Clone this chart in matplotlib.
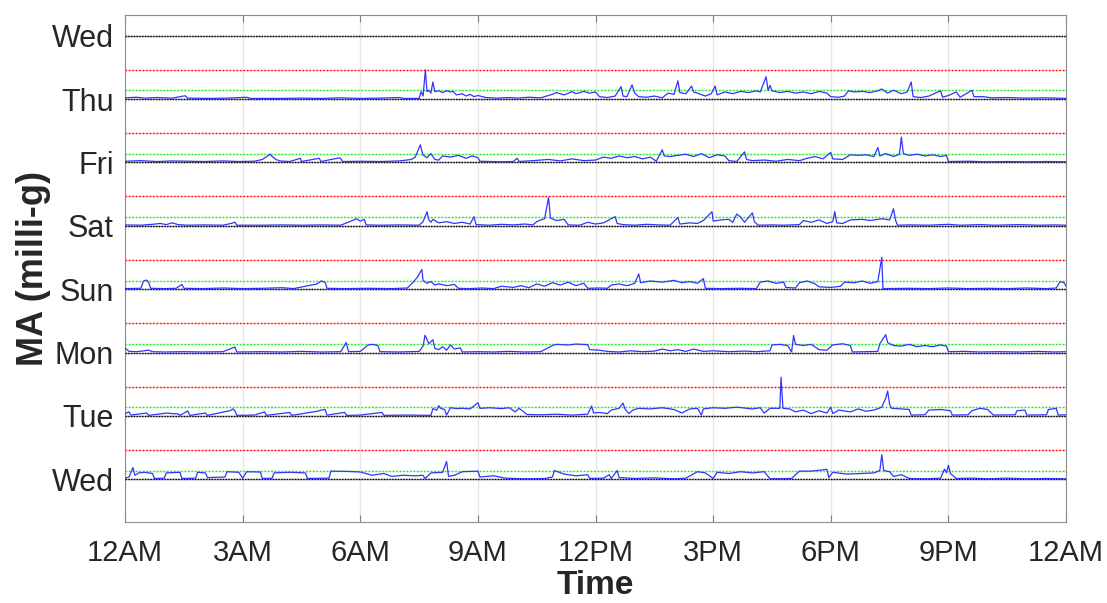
import matplotlib.pyplot as plt
import numpy as np

plt.rcParams['font.family'] = ['Liberation Sans', 'DejaVu Sans']

# y tick labels from top to bottom
day_labels = ["Wed", "Thu", "Fri", "Sat", "Sun", "Mon", "Tue", "Wed"]
hour_ticks = [0, 3, 6, 9, 12, 15, 18, 21, 24]
hour_labels = ["12AM", "3AM", "6AM", "9AM", "12PM", "3PM", "6PM", "9PM", "12AM"]

spacing = 216      # milli-g between day baselines
green_level = 29   # milli-g
red_level = 100    # milli-g

# (hour, MA in milli-g)
thu = [(0.0, 4), (0.3, 6), (0.5, 3), (0.8, 5), (1.2, 3), (1.53, 11), (1.6, 3), (2.2, 2), (2.6, 3), (3.1, 6),
       (3.2, 2), (4.0, 2), (4.5, 3), (5.0, 2), (5.5, 4), (6.0, 2), (6.5, 3), (7.0, 5), (7.1, 2), (7.5, 2),
       (7.55, 25), (7.6, 10), (7.66, 99), (7.7, 25), (7.75, 30), (7.8, 20), (7.85, 58), (7.9, 25), (8.0, 28),
       (8.1, 22), (8.2, 28), (8.3, 24), (8.37, 26), (8.45, 14), (8.6, 18), (8.7, 10), (8.8, 16), (8.9, 8),
       (9.0, 12), (9.2, 5), (9.5, 3), (9.8, 5), (10.0, 3), (10.3, 6), (10.6, 4), (10.75, 10), (10.9, 16),
       (11.0, 22), (11.2, 14), (11.4, 25), (11.5, 18), (11.7, 26), (11.85, 20), (12.0, 24), (12.1, 8),
       (12.3, 5), (12.5, 10), (12.65, 42), (12.7, 10), (12.8, 8), (12.93, 48), (13.0, 20), (13.1, 8),
       (13.3, 6), (13.5, 10), (13.7, 4), (13.85, 20), (14.0, 16), (14.1, 62), (14.15, 22), (14.3, 18),
       (14.45, 44), (14.5, 24), (14.6, 20), (14.8, 10), (14.95, 18), (15.05, 44), (15.1, 14), (15.3, 24),
       (15.5, 18), (15.7, 26), (15.9, 22), (16.1, 28), (16.2, 24), (16.35, 76), (16.4, 30), (16.45, 46),
       (16.5, 28), (16.7, 22), (16.9, 26), (17.1, 20), (17.3, 24), (17.5, 18), (17.7, 26), (17.9, 20),
       (18.0, 8), (18.2, 6), (18.35, 10), (18.45, 28), (18.6, 24), (18.8, 26), (19.0, 22), (19.2, 28),
       (19.3, 34), (19.45, 20), (19.6, 30), (19.8, 18), (19.95, 24), (20.05, 58), (20.1, 8), (20.3, 5),
       (20.5, 10), (20.8, 28), (20.85, 6), (21.0, 12), (21.2, 24), (21.3, 6), (21.6, 30), (21.65, 8),
       (21.9, 8), (22.1, 4), (22.5, 5), (23.0, 3), (23.5, 4), (24.0, 2)]

fri = [(0.0, 4), (0.4, 6), (0.8, 3), (1.2, 5), (1.6, 4), (2.0, 3), (2.5, 5), (2.9, 3), (3.3, 4), (3.5, 10),
       (3.7, 28), (3.75, 20), (3.85, 10), (3.95, 5), (4.2, 3), (4.47, 14), (4.5, 3), (4.95, 14), (5.0, 3),
       (5.48, 16), (5.55, 3), (6.0, 4), (6.5, 3), (7.0, 5), (7.3, 10), (7.4, 18), (7.53, 60), (7.6, 25),
       (7.7, 16), (7.8, 30), (7.9, 10), (8.0, 8), (8.1, 22), (8.3, 18), (8.5, 24), (8.7, 14), (8.85, 22),
       (9.0, 16), (9.05, 4), (9.3, 3), (9.6, 2), (9.9, 3), (10.0, 14), (10.05, 3), (10.4, 6), (10.8, 10),
       (11.1, 5), (11.4, 12), (11.7, 6), (12.0, 8), (12.2, 18), (12.4, 14), (12.6, 22), (12.8, 16),
       (13.0, 20), (13.2, 12), (13.4, 18), (13.55, 4), (13.7, 43), (13.75, 22), (13.9, 20), (14.1, 24),
       (14.3, 28), (14.5, 20), (14.7, 30), (14.9, 16), (15.1, 26), (15.3, 22), (15.4, 6), (15.6, 3),
       (15.8, 36), (15.85, 10), (16.0, 6), (16.3, 8), (16.6, 4), (16.9, 10), (17.2, 6), (17.4, 14),
       (17.6, 20), (17.8, 12), (18.0, 34), (18.05, 12), (18.3, 10), (18.5, 26), (18.7, 24), (18.9, 26),
       (19.1, 20), (19.2, 51), (19.25, 22), (19.4, 30), (19.6, 20), (19.75, 28), (19.8, 86), (19.85, 30),
       (20.0, 24), (20.2, 28), (20.4, 22), (20.6, 26), (20.8, 20), (20.95, 24), (21.0, 3), (21.5, 4),
       (22.0, 2), (22.5, 3), (23.0, 2), (23.5, 3), (24.0, 2)]

sat = [(0.0, 3), (0.4, 2), (0.7, 5), (0.9, 8), (1.05, 4), (1.2, 10), (1.35, 4), (1.6, 2), (2.0, 3), (2.5, 2),
       (2.7, 8), (2.8, 12), (2.85, 2), (3.5, 2), (4.0, 3), (4.5, 2), (5.0, 3), (5.5, 2), (5.8, 18), (5.9, 24),
       (6.0, 16), (6.1, 22), (6.15, 3), (6.5, 2), (7.0, 3), (7.5, 2), (7.6, 14), (7.7, 48), (7.75, 20),
       (7.8, 12), (7.85, 22), (8.0, 10), (8.2, 14), (8.4, 8), (8.6, 12), (8.8, 6), (8.9, 31), (8.95, 4),
       (9.3, 2), (9.6, 5), (9.9, 3), (10.2, 6), (10.4, 3), (10.5, 14), (10.6, 20), (10.7, 24), (10.8, 96),
       (10.85, 26), (11.0, 18), (11.2, 22), (11.3, 3), (11.6, 2), (11.8, 12), (12.0, 6), (12.2, 10),
       (12.5, 31), (12.55, 8), (12.7, 4), (13.0, 2), (13.3, 5), (13.6, 3), (13.9, 2), (14.1, 28), (14.15, 6),
       (14.4, 10), (14.6, 8), (14.75, 18), (14.97, 48), (15.0, 16), (15.2, 20), (15.4, 22), (15.5, 12),
       (15.6, 40), (15.7, 30), (15.8, 12), (16.0, 44), (16.05, 14), (16.15, 2), (16.5, 3), (16.8, 2),
       (17.2, 4), (17.3, 18), (17.5, 12), (17.7, 20), (17.9, 8), (18.05, 14), (18.1, 48), (18.15, 10),
       (18.3, 8), (18.5, 20), (18.8, 22), (19.0, 18), (19.3, 24), (19.5, 20), (19.6, 58), (19.65, 20),
       (19.7, 2), (20.0, 3), (20.5, 2), (21.0, 5), (21.3, 2), (21.8, 4), (22.2, 2), (22.8, 4), (23.3, 2),
       (23.7, 3), (24.0, 2)]

sun = [(0.0, 2), (0.4, 3), (0.47, 28), (0.55, 31), (0.6, 24), (0.65, 3), (1.0, 2), (1.3, 3), (1.45, 16),
       (1.5, 3), (2.0, 2), (2.5, 4), (3.0, 2), (3.5, 3), (4.0, 5), (4.3, 2), (4.9, 18), (5.0, 28), (5.1, 24),
       (5.15, 3), (5.6, 2), (6.2, 3), (6.8, 2), (7.2, 4), (7.35, 24), (7.45, 40), (7.57, 67), (7.6, 30),
       (7.7, 20), (7.8, 26), (7.9, 14), (8.0, 18), (8.2, 12), (8.4, 16), (8.5, 3), (8.8, 2), (9.1, 4),
       (9.4, 2), (9.6, 10), (9.9, 6), (10.1, 12), (10.3, 5), (10.5, 18), (10.7, 10), (10.9, 22), (11.1, 14),
       (11.3, 24), (11.5, 12), (11.7, 20), (11.8, 3), (12.1, 4), (12.3, 3), (12.4, 14), (12.6, 18),
       (12.8, 12), (13.0, 20), (13.1, 52), (13.15, 22), (13.4, 28), (13.7, 24), (14.0, 30), (14.2, 22),
       (14.4, 26), (14.6, 20), (14.75, 36), (14.8, 3), (15.2, 2), (15.7, 3), (16.1, 2), (16.2, 24),
       (16.4, 28), (16.6, 20), (16.8, 24), (16.85, 6), (17.1, 4), (17.2, 22), (17.4, 28), (17.6, 18),
       (17.7, 8), (18.0, 6), (18.25, 10), (18.35, 24), (18.6, 22), (18.8, 28), (19.0, 20), (19.2, 26),
       (19.3, 109), (19.33, 2), (20.0, 3), (20.5, 2), (21.0, 4), (21.5, 2), (22.0, 3), (22.5, 2), (23.0, 4),
       (23.5, 2), (23.75, 4), (23.85, 26), (23.95, 22), (24.0, 10)]

mon = [(0.0, 14), (0.05, 10), (0.1, 4), (0.3, 3), (0.6, 8), (0.7, 3), (1.0, 2), (1.5, 3), (2.0, 2), (2.5, 3),
       (2.8, 19), (2.85, 2), (3.5, 3), (4.0, 2), (4.5, 4), (5.0, 2), (5.5, 3), (5.64, 34), (5.7, 3), (6.0, 4),
       (6.2, 26), (6.3, 28), (6.45, 24), (6.5, 3), (7.0, 2), (7.5, 4), (7.6, 22), (7.65, 59), (7.75, 30),
       (7.85, 44), (7.9, 14), (8.0, 10), (8.1, 20), (8.2, 8), (8.3, 26), (8.4, 12), (8.55, 16), (8.6, 2),
       (9.0, 3), (9.4, 2), (9.8, 4), (10.2, 2), (10.6, 3), (10.9, 24), (11.0, 28), (11.3, 26), (11.5, 29),
       (11.8, 27), (11.85, 10), (12.1, 8), (12.3, 4), (12.6, 2), (12.9, 6), (13.2, 3), (13.5, 5), (13.7, 12),
       (13.9, 6), (14.1, 10), (14.3, 4), (14.5, 12), (14.75, 4), (15.0, 6), (15.4, 3), (15.8, 5), (16.1, 3),
       (16.45, 6), (16.5, 26), (16.7, 28), (16.9, 24), (17.0, 2), (17.05, 58), (17.1, 28), (17.3, 24),
       (17.5, 28), (17.7, 10), (17.9, 8), (18.05, 26), (18.3, 30), (18.5, 24), (18.55, 2), (18.9, 3),
       (19.2, 4), (19.25, 30), (19.4, 61), (19.45, 34), (19.6, 24), (19.8, 22), (20.0, 28), (20.2, 20),
       (20.4, 24), (20.6, 20), (20.8, 26), (20.95, 22), (21.0, 3), (21.4, 4), (21.8, 2), (22.3, 3),
       (22.8, 2), (23.3, 4), (23.7, 2), (24.0, 3)]

tue = [(0.0, 8), (0.1, 14), (0.15, 3), (0.55, 10), (0.6, 2), (1.07, 10), (1.2, 8), (1.35, 7), (1.4, 2),
       (1.6, 17), (1.65, 2), (2.05, 10), (2.1, 2), (2.68, 18), (2.75, 24), (2.8, 18), (2.85, 2), (3.3, 3),
       (3.56, 14), (3.6, 2), (4.2, 12), (4.25, 2), (4.9, 16), (5.0, 20), (5.1, 22), (5.15, 3), (5.6, 12),
       (5.65, 2), (6.0, 3), (6.55, 12), (6.6, 2), (7.2, 3), (7.8, 2), (7.85, 25), (7.95, 20), (8.0, 35),
       (8.05, 26), (8.15, 22), (8.2, 3), (8.3, 28), (8.45, 25), (8.6, 26), (8.8, 24), (9.0, 45), (9.05, 26),
       (9.3, 28), (9.6, 25), (9.8, 28), (9.95, 14), (10.05, 26), (10.25, 5), (10.6, 4), (11.0, 6), (11.4, 3),
       (11.8, 6), (11.9, 34), (11.95, 10), (12.1, 12), (12.3, 8), (12.4, 20), (12.6, 26), (12.7, 44),
       (12.75, 24), (12.85, 8), (12.95, 20), (13.1, 26), (13.4, 24), (13.7, 28), (14.0, 22), (14.2, 10),
       (14.4, 24), (14.6, 26), (14.7, 3), (14.75, 24), (15.0, 28), (15.3, 26), (15.6, 30), (15.8, 27),
       (16.0, 24), (16.2, 28), (16.3, 10), (16.45, 26), (16.7, 26), (16.73, 132), (16.78, 26), (16.95, 24),
       (17.1, 14), (17.3, 20), (17.5, 8), (17.7, 18), (17.9, 10), (18.0, 30), (18.05, 8), (18.2, 20),
       (18.5, 14), (18.7, 24), (18.9, 16), (19.1, 20), (19.3, 30), (19.4, 60), (19.45, 85), (19.5, 40),
       (19.55, 26), (19.8, 24), (20.0, 22), (20.05, 3), (20.4, 4), (20.5, 20), (20.8, 22), (21.05, 18),
       (21.1, 3), (21.5, 4), (21.6, 18), (21.8, 26), (22.0, 22), (22.15, 3), (22.7, 4), (22.75, 18),
       (22.95, 20), (23.0, 3), (23.5, 4), (23.55, 22), (23.75, 26), (23.8, 3), (24.0, 4)]

wed = [(0.0, 4), (0.1, 8), (0.2, 40), (0.25, 14), (0.35, 22), (0.5, 24), (0.7, 20), (0.75, 3), (1.0, 4),
       (1.05, 22), (1.4, 24), (1.45, 3), (1.8, 4), (1.85, 24), (2.05, 22), (2.1, 6), (2.55, 8), (2.6, 26),
       (2.9, 24), (3.0, 4), (3.1, 26), (3.45, 25), (3.5, 3), (3.75, 4), (3.8, 22), (4.2, 24), (4.6, 22),
       (4.65, 3), (5.2, 4), (5.25, 28), (5.7, 27), (6.0, 25), (6.3, 14), (6.6, 20), (6.8, 10), (7.1, 14),
       (7.4, 12), (7.6, 14), (7.65, 3), (7.8, 22), (8.1, 24), (8.2, 61), (8.25, 10), (8.4, 14), (8.6, 26),
       (9.0, 28), (9.05, 8), (9.4, 12), (9.7, 4), (10.2, 2), (10.7, 3), (10.9, 8), (10.95, 30), (11.2, 18),
       (11.5, 12), (11.8, 16), (11.85, 3), (12.2, 4), (12.35, 16), (12.4, 3), (12.55, 30), (12.6, 6),
       (13.0, 3), (13.5, 5), (14.0, 2), (14.3, 4), (14.6, 26), (14.8, 22), (15.0, 3), (15.1, 24), (15.4, 20),
       (15.7, 26), (16.0, 22), (16.3, 26), (16.4, 10), (16.45, 2), (17.0, 3), (17.2, 28), (17.5, 28),
       (17.9, 34), (17.95, 6), (18.05, 24), (18.4, 18), (18.8, 20), (19.1, 22), (19.25, 30), (19.3, 84),
       (19.35, 30), (19.5, 26), (19.6, 10), (19.8, 16), (20.0, 3), (20.4, 2), (20.8, 4), (20.9, 35),
       (20.95, 22), (21.0, 48), (21.05, 20), (21.2, 3), (21.6, 4), (22.0, 2), (22.5, 4), (23.0, 2),
       (23.5, 3), (24.0, 2)]

# traces from the top row down (top Wed has no data)
traces = [None, thu, fri, sat, sun, mon, tue, wed]

fig = plt.figure(figsize=(11.07, 6.03), dpi=100)
ax = fig.add_axes([0.113, 0.134, 0.85, 0.841])

n = len(day_labels)
base = [(n - 1 - i) * spacing for i in range(n)]

ax.grid(axis='x', color='0.9', lw=1)
ax.set_axisbelow(True)

for i, b in enumerate(base):
    ax.axhline(b, color='0.6', lw=1, zorder=2)
    ax.axhline(b, color='k', lw=1, ls=(0, (1, 1)), zorder=3)
    if traces[i] is None:
        continue
    ax.axhline(b + red_level, color='#ffbbbb', lw=1, zorder=2)
    ax.axhline(b + red_level, color='red', lw=1, ls=(0, (1, 1.5)), zorder=2)
    ax.axhline(b + green_level, color='#bbffbb', lw=1, zorder=2)
    ax.axhline(b + green_level, color='#22dd22', lw=1, ls=(0, (1, 1.5)), zorder=2)
    t, v = zip(*traces[i])
    ax.plot(t, b + np.array(v), color=(0.2, 0.2, 1.0), lw=0.9, zorder=4)

ax.set_xlim(0, 24)
ax.set_ylim(-146, (n - 1) * spacing + 70)
ax.set_xticks(hour_ticks)
ax.set_xticklabels(hour_labels)
ax.set_yticks(base)
ax.set_yticklabels(day_labels)
ax.tick_params(axis='x', direction='in', top=True, length=5, color='0.5',
               labelsize=21, labelcolor='0.15', pad=12)
ax.tick_params(axis='y', length=0, labelsize=22, labelcolor='0.15', pad=8)
for s in ax.spines.values():
    s.set_color('0.55')

ax.set_xlabel("Time", fontsize=24, fontweight='bold', color='0.15', labelpad=2)
ax.set_ylabel("MA (milli-g)", fontsize=26, fontweight='bold', color='0.15', labelpad=1)

fig.savefig("out.png", dpi=100)
